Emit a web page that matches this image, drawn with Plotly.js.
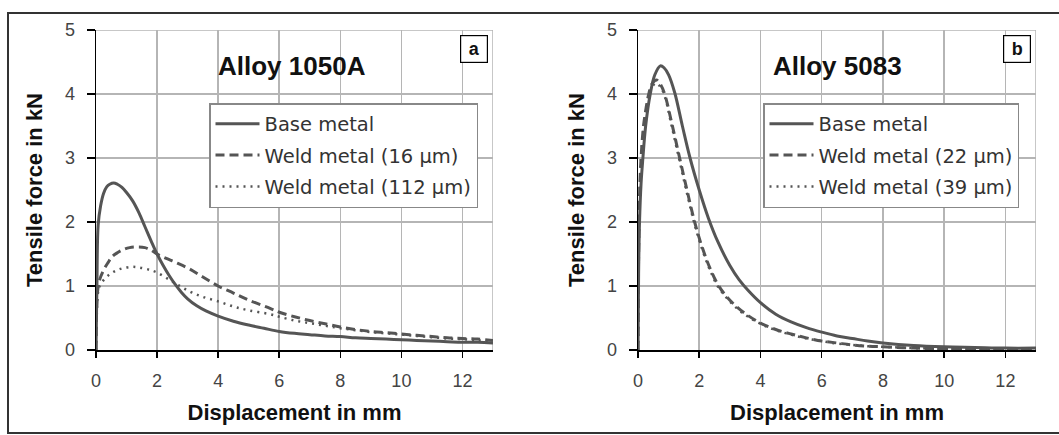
<!DOCTYPE html>
<html>
<head>
<meta charset="utf-8">
<script src="https://cdn.plot.ly/plotly-3.0.1.min.js"></script>
<style>html,body{margin:0;padding:0;background:#fff;}#chart{width:1059px;height:435px;}</style>
</head>
<body>
<div id="chart"></div>
<script>
// ---- Alloy 1050A (panel a) ----
const a_base_x = [0, 0.03, 0.07, 0.15, 0.25, 0.35, 0.45, 0.58, 0.7, 0.85, 1.0, 1.2, 1.4, 1.6, 1.8, 2.0, 2.2, 2.4, 2.6, 2.8, 3.0, 3.3, 3.6, 4.0, 4.5, 5.0, 5.5, 6.0, 6.5, 7.0, 7.5, 8.0, 8.5, 9.0, 9.5, 10, 10.5, 11, 11.5, 12, 12.5, 13];
const a_base_y = [0, 1.0, 1.95, 2.25, 2.45, 2.55, 2.59, 2.61, 2.59, 2.54, 2.46, 2.33, 2.15, 1.93, 1.71, 1.5, 1.32, 1.16, 1.02, 0.9, 0.8, 0.69, 0.61, 0.53, 0.45, 0.39, 0.34, 0.29, 0.26, 0.24, 0.22, 0.21, 0.19, 0.18, 0.17, 0.16, 0.15, 0.14, 0.13, 0.12, 0.12, 0.11];
const a_w16_x = [0, 0.02, 0.06, 0.12, 0.25, 0.4, 0.53, 0.7, 0.9, 1.1, 1.35, 1.6, 1.8, 2.0, 2.3, 2.6, 3.05, 3.5, 4.0, 4.5, 5.0, 5.7, 6.0, 6.5, 7.0, 7.5, 8.0, 8.5, 9.0, 9.5, 10, 10.5, 11, 11.5, 12, 12.5, 13];
const a_w16_y = [0, 0.6, 0.95, 1.1, 1.25, 1.37, 1.46, 1.52, 1.57, 1.6, 1.61, 1.6, 1.56, 1.5, 1.43, 1.37, 1.27, 1.14, 1.0, 0.89, 0.78, 0.65, 0.59, 0.52, 0.46, 0.41, 0.36, 0.32, 0.29, 0.27, 0.25, 0.23, 0.21, 0.19, 0.18, 0.17, 0.15];
const a_w112_x = [0, 0.02, 0.06, 0.12, 0.3, 0.5, 0.7, 0.9, 1.18, 1.4, 1.7, 2.0, 2.5, 3.05, 3.5, 4.0, 4.5, 5.0, 5.7, 6.0, 6.5, 7.0, 7.5, 8.0, 8.5, 9.0, 9.5, 10, 10.5, 11, 11.5, 12, 12.5, 13];
const a_w112_y = [0, 0.55, 0.88, 1.0, 1.12, 1.2, 1.25, 1.28, 1.3, 1.29, 1.26, 1.21, 1.07, 0.92, 0.83, 0.76, 0.68, 0.62, 0.56, 0.52, 0.46, 0.42, 0.38, 0.34, 0.31, 0.28, 0.26, 0.24, 0.22, 0.2, 0.18, 0.17, 0.15, 0.14];

// ---- Alloy 5083 (panel b) ----
const b_base_x = [0, 0.02, 0.05, 0.1, 0.16, 0.25, 0.4, 0.55, 0.73, 0.85, 1.0, 1.2, 1.45, 1.7, 2.0, 2.3, 2.6, 3.0, 3.3, 3.6, 4.0, 4.5, 5.0, 5.5, 6.0, 6.5, 7.0, 7.5, 8.0, 9.0, 10, 11, 12, 13];
const b_base_y = [0, 1.2, 2.0, 2.6, 3.0, 3.5, 4.0, 4.3, 4.44, 4.41, 4.3, 4.02, 3.5, 3.0, 2.5, 2.06, 1.7, 1.32, 1.1, 0.93, 0.74, 0.56, 0.44, 0.35, 0.28, 0.22, 0.18, 0.14, 0.11, 0.07, 0.05, 0.04, 0.03, 0.03];
const b_w22_x = [0, 0.02, 0.05, 0.1, 0.18, 0.27, 0.35, 0.45, 0.6, 0.72, 0.87, 1.1, 1.36, 1.6, 1.85, 2.1, 2.35, 2.6, 2.85, 3.1, 3.5, 4.0, 4.5, 5.0, 5.5, 6.0, 6.5, 7.0, 7.5, 8.0, 9.0, 10, 11, 12, 13];
const b_w22_y = [0, 1.5, 2.4, 3.0, 3.5, 3.8, 4.0, 4.15, 4.22, 4.16, 4.0, 3.55, 3.0, 2.5, 2.0, 1.6, 1.28, 1.03, 0.86, 0.73, 0.57, 0.42, 0.32, 0.25, 0.19, 0.14, 0.11, 0.08, 0.06, 0.05, 0.03, 0.02, 0.02, 0.02, 0.02];
const b_w39_x = [0, 0.02, 0.05, 0.1, 0.18, 0.27, 0.35, 0.45, 0.58, 0.72, 0.87, 1.1, 1.36, 1.6, 1.85, 2.1, 2.35, 2.6, 2.85, 3.1, 3.5, 4.0, 4.5, 5.0, 5.5, 6.0, 6.5, 7.0, 7.5, 8.0, 9.0, 10, 11, 12, 13];
const b_w39_y = [0, 1.4, 2.3, 2.95, 3.45, 3.75, 3.95, 4.1, 4.17, 4.12, 3.97, 3.5, 2.95, 2.45, 1.96, 1.57, 1.25, 1.0, 0.84, 0.71, 0.55, 0.41, 0.31, 0.24, 0.18, 0.14, 0.1, 0.08, 0.06, 0.05, 0.03, 0.02, 0.02, 0.02, 0.02];

const legendA = ['Base metal', 'Weld metal (16 µm)', 'Weld metal (112 µm)'];
const legendB = ['Base metal', 'Weld metal (22 µm)', 'Weld metal (39 µm)'];
const xTicks = [0, 2, 4, 6, 8, 10, 12];
const yTicks = [0, 1, 2, 3, 4, 5];
const panelTitles = ['Alloy 1050A', 'Alloy 5083'];
const panelLetters = ['a', 'b'];
const xTitle = 'Displacement in mm';
const yTitle = 'Tensile force in kN';

const FONT = 'Liberation Sans, Arial, sans-serif';
const LFONT = 'DejaVu Sans, sans-serif';
const LC = '#555555';
const styles = [
  {width: 3, dash: 'solid'},
  {width: 3, dash: '9px,5px'},
  {width: 2.5, dash: '2px,5px'}
];

function tr(x, y, name, k, xa, ya, leg) {
  return {
    x: x, y: y, name: name, type: 'scatter', mode: 'lines',
    xaxis: xa, yaxis: ya, legend: leg, legendgroup: leg + k,
    line: {color: LC, width: styles[k].width, dash: styles[k].dash, shape: 'spline', smoothing: 1.0}
  };
}

const data = [
  tr(a_base_x, a_base_y, legendA[0], 0, 'x', 'y', 'legend'),
  tr(a_w16_x, a_w16_y, legendA[1], 1, 'x', 'y', 'legend'),
  tr(a_w112_x, a_w112_y, legendA[2], 2, 'x', 'y', 'legend'),
  tr(b_base_x, b_base_y, legendB[0], 0, 'x2', 'y2', 'legend2'),
  tr(b_w22_x, b_w22_y, legendB[1], 1, 'x2', 'y2', 'legend2'),
  tr(b_w39_x, b_w39_y, legendB[2], 2, 'x2', 'y2', 'legend2')
];

function xax(dom, anchor) {
  return {
    domain: dom, anchor: anchor, range: [0, 13], tickvals: xTicks,
    showgrid: true, gridcolor: '#b5b5b5', gridwidth: 1.5, zeroline: false,
    showline: true, linecolor: '#000', linewidth: 1.5,
    ticks: 'outside', ticklen: 6, tickcolor: '#000', tickwidth: 1.5,
    ticklabelstandoff: 8,
    tickfont: {family: FONT, size: 18, color: '#444'},
    title: {text: '<b>' + xTitle + '</b>', font: {family: FONT, size: 22, color: '#111'}, standoff: 14}
  };
}
function yax(dom, anchor) {
  return {
    domain: dom, anchor: anchor, range: [0, 5], tickvals: yTicks,
    showgrid: true, gridcolor: '#b5b5b5', gridwidth: 1.5, zeroline: false,
    showline: true, linecolor: '#000', linewidth: 1.5,
    ticks: 'outside', ticklen: 8, tickcolor: '#000', tickwidth: 1.5,
    ticklabelstandoff: 8,
    tickfont: {family: FONT, size: 18, color: '#444'},
    title: {text: '<b>' + yTitle + '</b>', font: {family: FONT, size: 22, color: '#111'}, standoff: 16}
  };
}

const W = 1059, H = 435;
const px = v => v / W, py = v => 1 - v / H;

function legendCfg(xl) {
  return {
    x: px(xl), y: py(103), xanchor: 'left', yanchor: 'top',
    bgcolor: '#fff', bordercolor: '#888', borderwidth: 1.5,
    font: {family: LFONT, size: 19.5, color: '#333'},
    itemwidth: 44,
    tracegroupgap: 3, traceorder: 'grouped'
  };
}

const layout = {
  width: W, height: H,
  margin: {l: 0, r: 0, t: 0, b: 0},
  paper_bgcolor: '#fff', plot_bgcolor: '#fff',
  showlegend: true,
  xaxis: xax([px(96), px(493)], 'y'),
  yaxis: yax([py(350), py(30)], 'x'),
  xaxis2: xax([px(638), px(1036)], 'y2'),
  yaxis2: yax([py(350), py(30)], 'x2'),
  legend: legendCfg(209),
  legend2: legendCfg(763),
  annotations: [
    {text: '<b>' + panelTitles[0] + '</b>', xref: 'paper', yref: 'paper', x: px(292), y: py(66), xanchor: 'center', yanchor: 'middle', showarrow: false, font: {family: FONT, size: 26, color: '#111'}},
    {text: '<b>' + panelTitles[1] + '</b>', xref: 'paper', yref: 'paper', x: px(837), y: py(66), xanchor: 'center', yanchor: 'middle', showarrow: false, font: {family: FONT, size: 26, color: '#111'}},
    {text: '<b>' + panelLetters[0] + '</b>', xref: 'paper', yref: 'paper', x: px(474), y: py(49), xanchor: 'center', yanchor: 'middle', showarrow: false, width: 24, height: 24, borderwidth: 1.2, bordercolor: '#000', borderpad: 1, bgcolor: '#fff', font: {family: FONT, size: 18, color: '#111'}},
    {text: '<b>' + panelLetters[1] + '</b>', xref: 'paper', yref: 'paper', x: px(1017), y: py(49), xanchor: 'center', yanchor: 'middle', showarrow: false, width: 24, height: 24, borderwidth: 1.2, bordercolor: '#000', borderpad: 1, bgcolor: '#fff', font: {family: FONT, size: 18, color: '#111'}}
  ],
  shapes: [
    {type: 'line', xref: 'x', yref: 'y', x0: 13, x1: 13, y0: 0, y1: 5, line: {color: '#b5b5b5', width: 1.5}, layer: 'below'},
    {type: 'line', xref: 'x', yref: 'y', x0: 0, x1: 13, y0: 5, y1: 5, line: {color: '#b5b5b5', width: 1.5}, layer: 'below'},
    {type: 'line', xref: 'x2', yref: 'y2', x0: 13, x1: 13, y0: 0, y1: 5, line: {color: '#b5b5b5', width: 1.5}, layer: 'below'},
    {type: 'line', xref: 'x2', yref: 'y2', x0: 0, x1: 13, y0: 5, y1: 5, line: {color: '#b5b5b5', width: 1.5}, layer: 'below'},
    {type: 'rect', xref: 'paper', yref: 'paper', x0: px(8), x1: 1.01, y0: py(433), y1: py(13), line: {color: '#333', width: 2}, layer: 'below'}
  ]
};

Plotly.newPlot('chart', data, layout, {displayModeBar: false, staticPlot: true});
</script>
</body>
</html>
